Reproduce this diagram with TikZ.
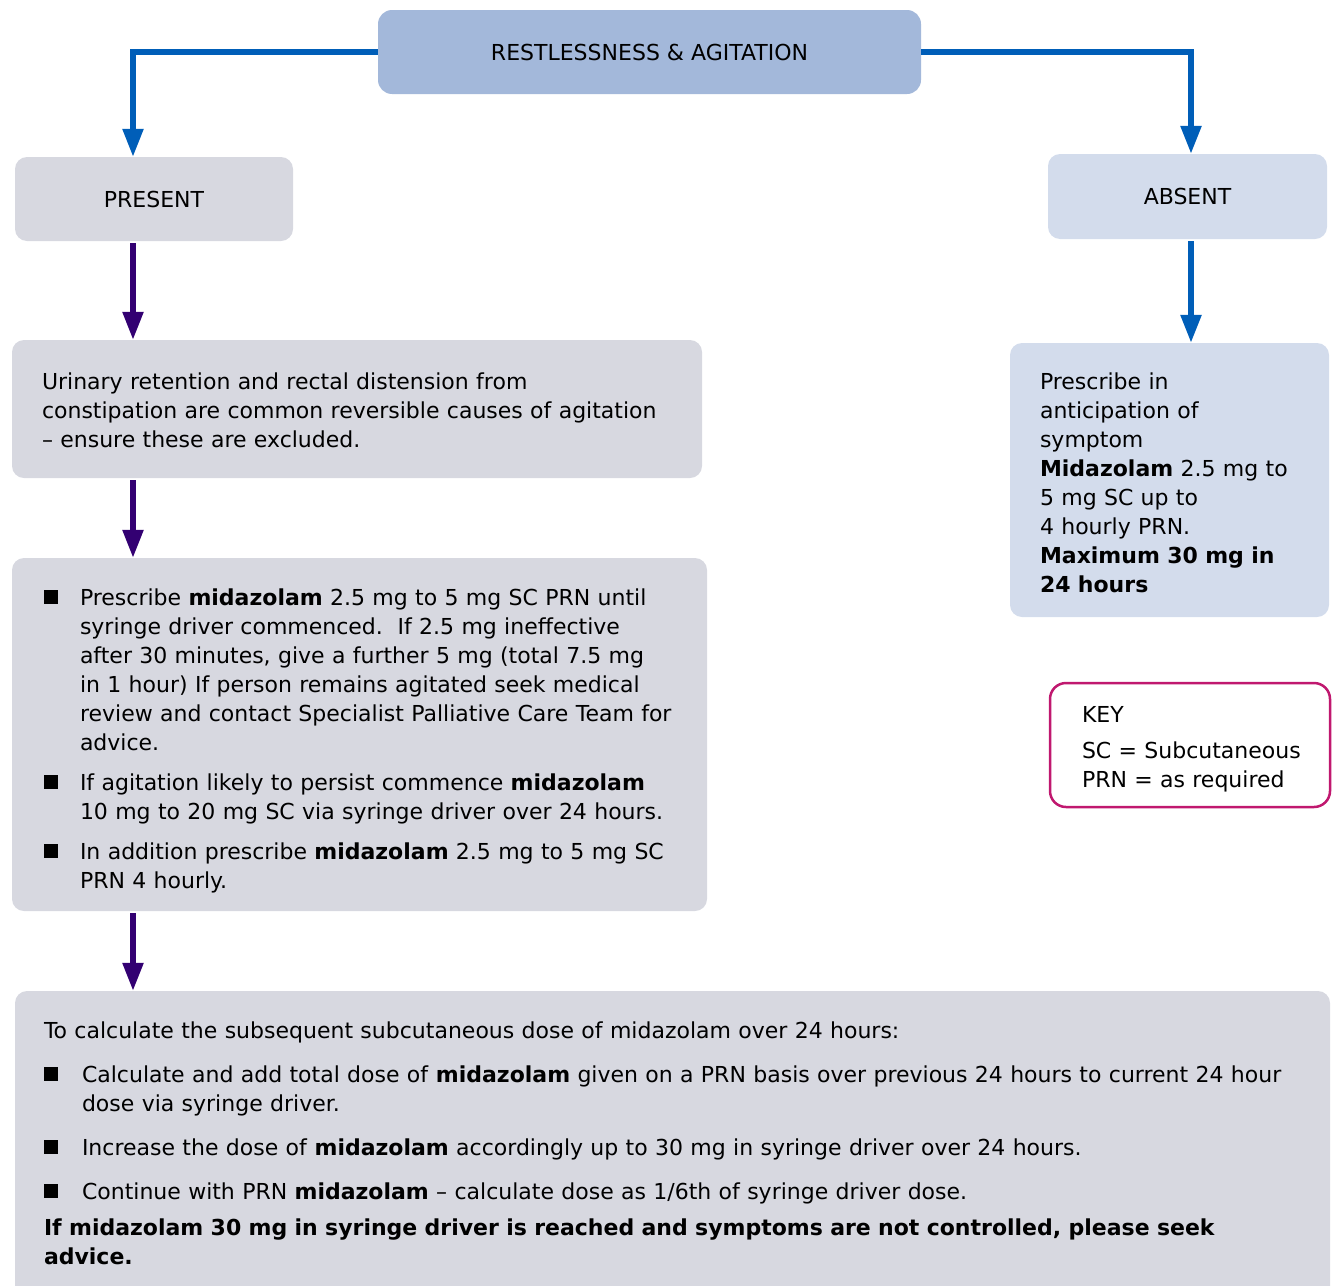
\documentclass[tikz,border=0pt]{standalone}
\usepackage{fontspec}
\setmainfont{DejaVu Sans}
\usetikzlibrary{arrows.meta}
\definecolor{topfill}{HTML}{A3B8DA}
\definecolor{grayfill}{HTML}{D7D8E0}
\definecolor{bluefill}{HTML}{D3DCEC}
\definecolor{nhsblue}{HTML}{005EB8}
\definecolor{nhspurple}{HTML}{330072}
\definecolor{keypink}{HTML}{C0186F}
\newcommand{\bsq}{\raisebox{1.5pt}{\rule{14pt}{14pt}}}
\newcommand{\bitem}[2][36pt]{\par\hangindent=#1\hangafter=1\noindent\makebox[#1][l]{\bsq}#2\par}
\tikzset{
  box/.style={rectangle, rounded corners=12pt, inner ysep=0pt,
    font=\fontsize{22}{29}\selectfont, execute at begin node={\parindent=0pt}},
  labelbox/.style={box, inner xsep=0pt, align=center},
  textbox/.style={box, align=left},
  bluearrow/.style={draw=nhsblue, line width=5.5pt, -{Triangle[length=28pt,width=20pt]}},
  purplearrow/.style={draw=nhspurple, line width=5.5pt, -{Triangle[length=28pt,width=20pt]}},
}
\begin{document}
\begin{tikzpicture}[x=1pt,y=1pt]
\useasboundingbox (0,0) rectangle (1335,-1285);
\coordinate (xL) at (133,0);
\coordinate (xR) at (1191,0);

\node[labelbox, fill=topfill, rounded corners=14pt, minimum width=543pt, minimum height=84pt]
  (top) at (649.5,-52) {RESTLESSNESS \& AGITATION};
\node[labelbox, fill=grayfill, minimum width=278pt, minimum height=84pt]
  (present) at (154,-199) {PRESENT};
\node[labelbox, fill=bluefill, minimum width=279pt, minimum height=85pt]
  (absent) at (1187.5,-196.5) {ABSENT};

\node[textbox, fill=grayfill, inner xsep=30pt, text width=630pt, minimum height=138pt]
  (urin) at (357,-409) {%
  \mbox{}\par\vspace{-9pt}
  \mbox{Urinary retention and rectal distension from}\newline
  \mbox{constipation are common reversible causes of agitation}\newline
  \mbox{– ensure these are excluded.}};

\node[textbox, fill=grayfill, inner xsep=32pt, text width=631pt, minimum height=353pt]
  (presc) at (359.5,-734.5) {%
  \bitem{\mbox{Prescribe \textbf{midazolam} 2.5 mg to 5 mg SC PRN until}\newline
    \mbox{syringe driver commenced.\ \ If 2.5 mg ineffective}\newline
    \mbox{after 30 minutes, give a further 5 mg (total 7.5 mg}\newline
    \mbox{in 1 hour) If person remains agitated seek medical}\newline
    \mbox{review and contact Specialist Palliative Care Team for}\newline
    \mbox{advice.}}
  \vspace{11pt}
  \bitem{\mbox{If agitation likely to persist commence \textbf{midazolam}}\newline
    \mbox{10 mg to 20 mg SC via syringe driver over 24 hours.}}
  \vspace{11pt}
  \bitem{\mbox{In addition prescribe \textbf{midazolam} 2.5 mg to 5 mg SC}\newline
    \mbox{PRN 4 hourly.}}};

\node[textbox, fill=grayfill, inner xsep=29pt, text width=1257pt, minimum height=314pt]
  (calc) at (672.5,-1148) {%
  \mbox{To calculate the subsequent subcutaneous dose of midazolam over 24 hours:}\par
  \vspace{15pt}
  \bitem[38pt]{\mbox{Calculate and add total dose of \textbf{midazolam} given on a PRN basis over previous 24 hours to current 24 hour}\newline
    \mbox{dose via syringe driver.}}
  \vspace{15pt}
  \bitem[38pt]{\mbox{Increase the dose of \textbf{midazolam} accordingly up to 30 mg in syringe driver over 24 hours.}}
  \vspace{15pt}
  \bitem[38pt]{\mbox{Continue with PRN \textbf{midazolam} – calculate dose as 1/6th of syringe driver dose.}}
  \vspace{7pt}
  \textbf{\mbox{If midazolam 30 mg in syringe driver is reached and symptoms are not controlled, please seek}\newline
    \mbox{advice.}}\par
  \vspace{-19pt}\mbox{}};

\node[textbox, fill=bluefill, inner xsep=30pt, text width=259pt, minimum height=274pt]
  (antic) at (1169.5,-480) {%
  \mbox{}\par\vspace{-7pt}
  \mbox{Prescribe in}\newline
  \mbox{anticipation of}\newline
  \mbox{symptom}\newline
  \mbox{\textbf{Midazolam} 2.5 mg to}\newline
  \mbox{5 mg SC up to}\newline
  \mbox{4 hourly PRN.}\newline
  \mbox{\textbf{Maximum 30 mg in}}\newline
  \mbox{\textbf{24 hours}}};

\node[textbox, draw=keypink, line width=2.5pt, fill=white, rounded corners=16pt,
  inner xsep=32pt, text width=216pt, minimum height=124pt]
  (key) at (1190,-745) {%
  \mbox{}\par\vspace{-5pt}
  KEY\par\vspace{7pt}
  \mbox{SC = Subcutaneous}\newline
  \mbox{PRN = as required}};

\draw[bluearrow] (top.west) -| (present.north -| xL);
\draw[bluearrow] (top.east) -| (absent.north -| xR);
\draw[bluearrow, shorten <=2pt] (absent.south -| xR) -- (antic.north -| xR);
\draw[purplearrow, shorten <=2pt] (present.south -| xL) -- (urin.north -| xL);
\draw[purplearrow, shorten <=2pt] (urin.south -| xL) -- (presc.north -| xL);
\draw[purplearrow, shorten <=2pt] (presc.south -| xL) -- (calc.north -| xL);
\end{tikzpicture}
\end{document}
